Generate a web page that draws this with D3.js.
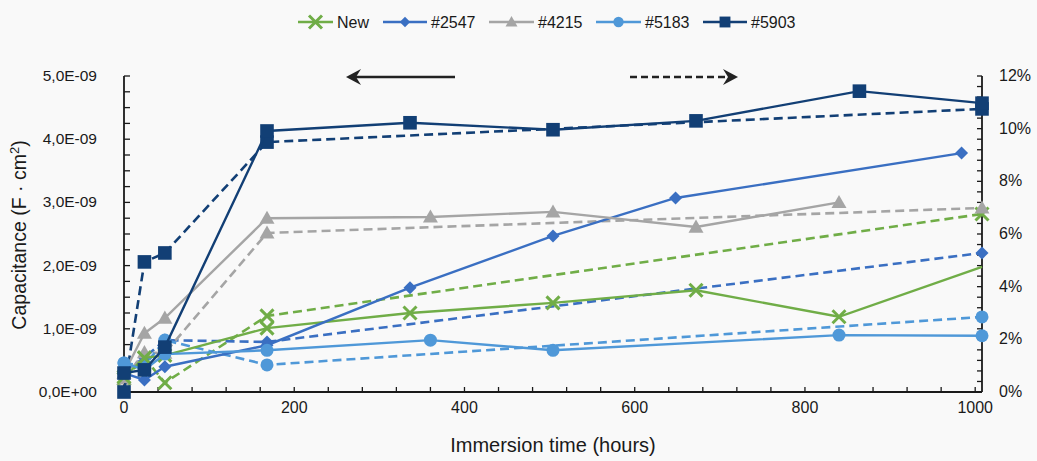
<!DOCTYPE html>
<html><head><meta charset="utf-8">
<script src="https://cdn.jsdelivr.net/npm/d3@7"></script>
<style>
html,body{margin:0;padding:0;background:#f9f9f9;}
svg{display:block;font-family:"Liberation Sans",Arial,sans-serif;}
</style></head>
<body>
<svg id="chart" width="1037" height="461"></svg>
<script>
// ---- data ----
const seriesNames = ["New", "#2547", "#4215", "#5183", "#5903"];
const seriesColors = ["#70ad47", "#3a6fc2", "#a5a5a5", "#4f98d8", "#123f75"];
const seriesMarkers = ["x", "diamond", "triangle", "circle", "square"];

// capacitance (left axis, units of 1E-9 F·cm²), solid lines
const capTimeNew = [0, 24, 48, 168, 336, 504, 672, 840, 1008];
const capValNew  = [0.24, 0.54, 0.58, 1.01, 1.25, 1.41, 1.61, 1.19, 1.98];
const capTime2547 = [0, 24, 48, 168, 336, 504, 648, 984];
const capVal2547  = [0.30, 0.19, 0.40, 0.74, 1.65, 2.47, 3.07, 3.78];
const capTime4215 = [0, 24, 48, 168, 360, 504, 672, 840];
const capVal4215  = [0.30, 0.93, 1.17, 2.75, 2.77, 2.85, 2.61, 3.00];
const capTime5183 = [0, 24, 48, 168, 360, 504, 840, 1008];
const capVal5183  = [0.46, 0.35, 0.60, 0.66, 0.82, 0.66, 0.90, 0.89];
const capTime5903 = [0, 24, 48, 168, 336, 504, 672, 864, 1008];
const capVal5903  = [0.30, 0.35, 0.71, 4.13, 4.26, 4.15, 4.29, 4.76, 4.57];

// water uptake (right axis, %), dashed lines
const pctTimeNew = [0, 24, 48, 168, 1008];
const pctValNew  = [0.5, 1.3, 0.35, 2.89, 6.76];
const pctTime2547 = [0, 24, 48, 168, 1008];
const pctVal2547  = [0.8, 1.3, 1.97, 1.90, 5.28];
const pctTime4215 = [0, 24, 48, 168, 1008];
const pctVal4215  = [0.5, 1.5, 1.48, 6.04, 6.99];
const pctTime5183 = [0, 24, 48, 168, 1008];
const pctVal5183  = [1.1, 1.0, 1.97, 1.03, 2.85];
const pctTime5903 = [0, 24, 48, 168, 1008];
const pctVal5903  = [0.0, 4.94, 5.28, 9.49, 10.75];

const xTicks = [0, 200, 400, 600, 800, 1000];
const leftTicks = [0, 1, 2, 3, 4, 5];
const leftTickLabels = ["0,0E+00", "1,0E-09", "2,0E-09", "3,0E-09", "4,0E-09", "5,0E-09"];
const rightTicks = [0, 2, 4, 6, 8, 10, 12];
const rightTickLabels = ["0%", "2%", "4%", "6%", "8%", "10%", "12%"];

const capSeries = [
  [capTimeNew, capValNew], [capTime2547, capVal2547], [capTime4215, capVal4215],
  [capTime5183, capVal5183], [capTime5903, capVal5903]];
const pctSeries = [
  [pctTimeNew, pctValNew], [pctTime2547, pctVal2547], [pctTime4215, pctVal4215],
  [pctTime5183, pctVal5183], [pctTime5903, pctVal5903]];

// ---- layout ----
const svg = d3.select("#chart");
const L = 124, R = 982, T = 76, B = 392;
const x = d3.scaleLinear().domain([0, 1008]).range([L, R]);
const yL = d3.scaleLinear().domain([0, 5]).range([B, T]);
const yR = d3.scaleLinear().domain([0, 12]).range([B, T]);

const axisColor = "#1a1a1a";
const fontSize = 15.5;

const ax = svg.append("g");
ax.append("line").attr("x1", L).attr("x2", L).attr("y1", T).attr("y2", B).attr("stroke", axisColor).attr("stroke-width", 1.8);
ax.append("line").attr("x1", R).attr("x2", R).attr("y1", T).attr("y2", B).attr("stroke", axisColor).attr("stroke-width", 1.8);
ax.append("line").attr("x1", L).attr("x2", R).attr("y1", B).attr("y2", B).attr("stroke", axisColor).attr("stroke-width", 1.8);

d3.range(0, 5.001, 0.25).forEach(v => {
  ax.append("line").attr("x1", L).attr("x2", L + 6).attr("y1", yL(v)).attr("y2", yL(v)).attr("stroke", axisColor).attr("stroke-width", 1.3);
});
d3.range(0, 12.001, 0.4).forEach(v => {
  ax.append("line").attr("x1", R - 5).attr("x2", R).attr("y1", yR(v)).attr("y2", yR(v)).attr("stroke", axisColor).attr("stroke-width", 1.3);
});
d3.range(0, 1001, 40).forEach(v => {
  ax.append("line").attr("x1", x(v)).attr("x2", x(v)).attr("y1", B).attr("y2", B - 5).attr("stroke", axisColor).attr("stroke-width", 1.3);
});

leftTicks.forEach((v, i) => {
  ax.append("text").attr("x", 97).attr("y", yL(v) + 5).attr("text-anchor", "end")
    .attr("font-size", fontSize).attr("fill", "#1a1a1a").text(leftTickLabels[i]);
});
rightTicks.forEach((v, i) => {
  ax.append("text").attr("x", 999).attr("y", yR(v) + 5).attr("text-anchor", "start")
    .attr("font-size", fontSize + 0.5).attr("fill", "#1a1a1a").text(rightTickLabels[i]);
});
xTicks.forEach(v => {
  ax.append("text").attr("x", x(v)).attr("y", 413).attr("text-anchor", "middle")
    .attr("font-size", fontSize + 0.5).attr("fill", "#1a1a1a").text(v);
});

svg.append("text").attr("x", 553).attr("y", 452).attr("text-anchor", "middle")
  .attr("font-size", 20).attr("fill", "#1a1a1a").text("Immersion time (hours)");
const yt = svg.append("text").attr("transform", "translate(26,235) rotate(-90)").attr("text-anchor", "middle")
  .attr("font-size", 19.5).attr("fill", "#1a1a1a");
yt.append("tspan").text("Capacitance (F · cm");
yt.append("tspan").attr("font-size", 13).attr("dy", -7).text("2");
yt.append("tspan").attr("dy", 7).text(")");

// arrows
const arr = svg.append("g").attr("stroke", "#222").attr("stroke-width", 2.6).attr("fill", "none");
arr.append("line").attr("x1", 352).attr("x2", 455).attr("y1", 77).attr("y2", 77);
svg.append("path").attr("d", "M346,77 L361,69 L356,77 L361,85 Z").attr("fill", "#222");
arr.append("line").attr("x1", 630).attr("x2", 730).attr("y1", 77).attr("y2", 77).attr("stroke-dasharray", "7,4");
svg.append("path").attr("d", "M738,77 L723,69 L728,77 L723,85 Z").attr("fill", "#222");

function drawMarker(g, type, cx, cy, color, s) {
  s = s || 1;
  if (type === "x") {
    const d = 6.5 * s;
    g.append("path").attr("d", `M${cx - d},${cy - d}L${cx + d},${cy + d}M${cx - d},${cy + d}L${cx + d},${cy - d}`)
      .attr("stroke", color).attr("stroke-width", 3).attr("fill", "none");
  } else if (type === "diamond") {
    const d = 6.5 * s;
    g.append("path").attr("d", `M${cx},${cy - d}L${cx + d},${cy}L${cx},${cy + d}L${cx - d},${cy}Z`).attr("fill", color);
  } else if (type === "triangle") {
    const d = 7.5 * s;
    g.append("path").attr("d", `M${cx},${cy - d}L${cx + d},${cy + d * 0.75}L${cx - d},${cy + d * 0.75}Z`).attr("fill", color);
  } else if (type === "circle") {
    g.append("circle").attr("cx", cx).attr("cy", cy).attr("r", 6.5 * s).attr("fill", color);
  } else if (type === "square") {
    const d = 6.8 * s;
    g.append("rect").attr("x", cx - d).attr("y", cy - d).attr("width", 2 * d).attr("height", 2 * d).attr("fill", color);
  }
}

const plot = svg.append("g");
const lineGen = d3.line();

pctSeries.forEach((s, i) => {
  const pts = s[0].map((t, j) => [x(t), yR(s[1][j])]);
  plot.append("path").attr("d", lineGen(pts)).attr("fill", "none").attr("stroke", seriesColors[i])
    .attr("stroke-width", 2.6).attr("stroke-dasharray", "9,5");
  pts.forEach(p => drawMarker(plot, seriesMarkers[i], p[0], p[1], seriesColors[i]));
});
capSeries.forEach((s, i) => {
  const pts = s[0].map((t, j) => [x(t), yL(s[1][j])]);
  plot.append("path").attr("d", lineGen(pts)).attr("fill", "none").attr("stroke", seriesColors[i])
    .attr("stroke-width", 2.4);
  pts.forEach((p, j) => {
    // last point of the "New" capacitance series is drawn without a marker
    if (i === 0 && j === pts.length - 1) return;
    drawMarker(plot, seriesMarkers[i], p[0], p[1], seriesColors[i]);
  });
});

// legend
const legLine = [[298, 333], [383, 427], [489, 534], [596, 641], [703, 747]];
const leg = svg.append("g");
seriesNames.forEach((n, i) => {
  const [a, b] = legLine[i];
  leg.append("line").attr("x1", a).attr("x2", b).attr("y1", 22).attr("y2", 22)
    .attr("stroke", seriesColors[i]).attr("stroke-width", 2.6);
  drawMarker(leg, seriesMarkers[i], (a + b) / 2, 22, seriesColors[i], i === 0 ? 1 : 0.8);
  leg.append("text").attr("x", b + 4).attr("y", 27.5).attr("font-size", 16).attr("fill", "#1a1a1a").text(n);
});
</script>
</body></html>
